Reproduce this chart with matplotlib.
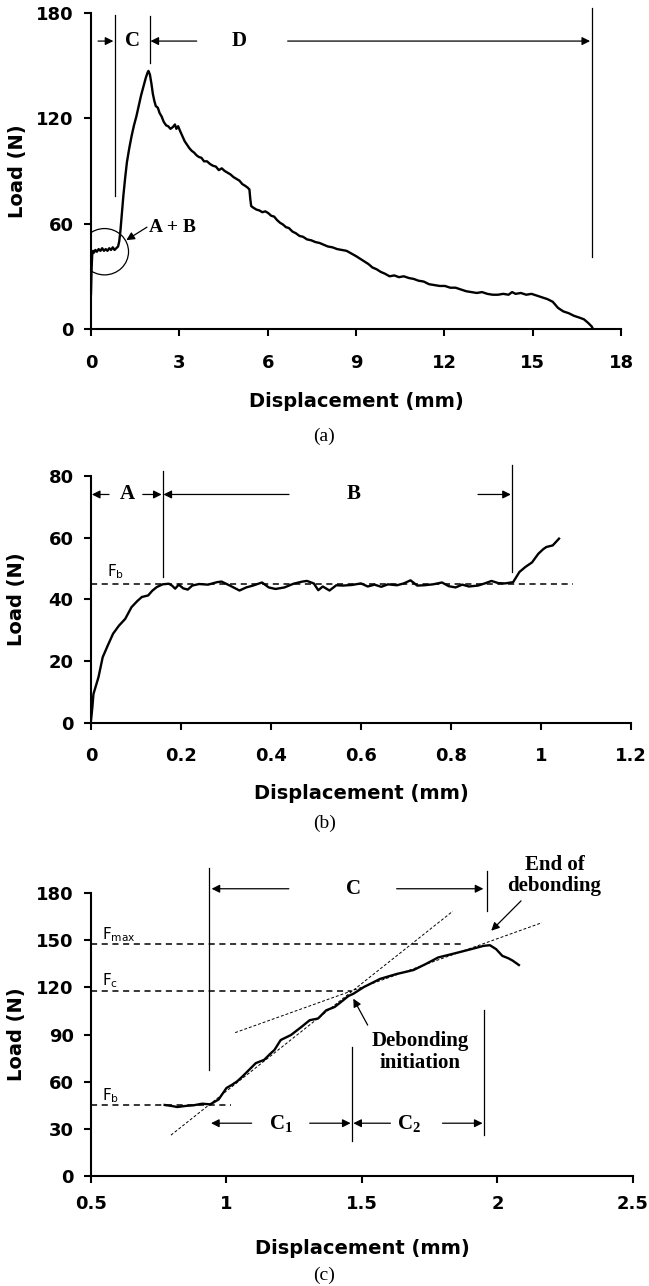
import matplotlib
matplotlib.use('Agg')
import matplotlib.pyplot as plt
from matplotlib.patches import Ellipse
from matplotlib.ticker import FormatStrFormatter

##### DATA #####

# (a) full load-displacement curve
disp_a = [0, 0.02, 0.04, 0.07, 0.1, 0.15, 0.2, 0.26, 0.32, 0.38, 0.44, 0.5, 0.56, 0.62,
          0.68, 0.74, 0.8, 0.86, 0.92, 0.96, 1.0, 1.05, 1.1, 1.16, 1.22, 1.3, 1.38, 1.46,
          1.54, 1.62, 1.7, 1.78, 1.86, 1.92, 1.95,
          2.0, 2.05, 2.1, 2.15, 2.2, 2.27, 2.33, 2.4, 2.47, 2.55, 2.62, 2.7, 2.78, 2.85,
          2.9, 2.96, 3.02, 3.1, 3.18, 3.26, 3.34, 3.42, 3.5, 3.58, 3.66, 3.75, 3.84, 3.94,
          4.04, 4.14, 4.24, 4.34, 4.44, 4.54, 4.64, 4.74, 4.84, 4.94, 5.04, 5.14, 5.24,
          5.32, 5.38, 5.41, 5.44, 5.52, 5.62, 5.72, 5.82, 5.92, 6.02, 6.12, 6.22, 6.32,
          6.42, 6.52, 6.62, 6.72, 6.84, 6.96, 7.08, 7.2, 7.34, 7.48, 7.62, 7.76, 7.9, 8.04,
          8.2, 8.36, 8.52, 8.68, 8.84, 9.0, 9.14, 9.28, 9.42, 9.56, 9.7, 9.84, 9.98, 10.14,
          10.3, 10.46, 10.62, 10.8, 10.96, 11.12, 11.3, 11.48, 11.66, 11.84, 12.02, 12.2,
          12.38, 12.56, 12.74, 12.92, 13.1, 13.28, 13.46, 13.64, 13.82, 14.0, 14.18, 14.3,
          14.42, 14.6, 14.78, 14.96, 15.14, 15.32, 15.5, 15.68, 15.86, 16.04, 16.22, 16.4,
          16.58, 16.74, 16.88, 17.0, 17.04]
load_a = [20, 34, 42, 44.5, 43.5, 45, 44, 45.5, 44.5, 46, 44.5, 45.5, 44.5, 46,
          45, 46.5, 45, 46, 47, 50, 56, 66, 76, 86, 95, 103, 110, 116,
          121, 127, 133, 138, 143, 146, 147,
          145, 140, 134, 130, 127, 126, 123, 121, 118, 116, 115.5, 114, 115, 116.5,
          114, 115.5, 113, 110, 107, 105, 103, 101.5, 100.5, 99, 98, 97.5, 95.5, 95.5,
          94, 93, 92.5, 90.5, 91.5, 90, 89, 88, 86.5, 85.5, 84.5, 82.5, 81.5,
          80.5, 79.5, 74, 70, 69, 68, 67.5, 66.5, 67, 66, 64.5, 64, 62,
          60.5, 59.5, 58, 57.5, 55.5, 54.5, 53, 52.5, 51, 50.5, 49.5, 49, 48, 47,
          46.5, 45.5, 45, 44.5, 43, 41.5, 40, 38.5, 37, 35, 34, 32.5, 31.5, 30,
          30.5, 29.5, 30, 29, 28.5, 27.5, 27, 25.5, 25, 24.5, 24.5, 23.5,
          23.5, 22.5, 21.5, 21, 20.5, 21, 20, 19.5, 19.5, 20, 19.5, 21,
          20, 20.5, 19.5, 20, 19, 18, 17, 15.5, 12, 10, 9, 7.5,
          6.5, 5.5, 3.5, 1.5, 0.3]

# (b) zoom on stages A + B
disp_b = [0, 0.003, 0.0055, 0.0166, 0.026, 0.037, 0.049, 0.062, 0.076, 0.09, 0.103, 0.113,
          0.127, 0.136, 0.146, 0.159, 0.173, 0.18, 0.187, 0.195, 0.205, 0.215, 0.225, 0.24,
          0.26, 0.28, 0.29, 0.31, 0.33, 0.345, 0.36, 0.38, 0.395, 0.41, 0.43, 0.45, 0.47,
          0.48, 0.495, 0.505, 0.515, 0.53, 0.545, 0.56, 0.58, 0.6, 0.615, 0.63, 0.645, 0.66,
          0.68, 0.695, 0.71, 0.725, 0.74, 0.76, 0.78, 0.795, 0.81, 0.825, 0.84, 0.86, 0.875,
          0.89, 0.905, 0.92, 0.938, 0.952, 0.965, 0.98, 0.994, 1.005, 1.012, 1.026, 1.04]
load_b = [0.8, 5, 9.4, 14.8, 21.3, 25, 28.9, 31.5, 33.7, 37.5, 39.5, 40.8,
          41.3, 42.8, 44, 44.9, 45.1, 44.5, 43.5, 44.8, 43.6, 43.2, 44.5, 45,
          44.8, 45.6, 45.8, 44.4, 42.9, 43.9, 44.5, 45.5, 43.9, 43.4, 43.9, 45.1, 45.8,
          46, 45.2, 43, 44.2, 42.9, 44.6, 44.5, 44.7, 45.2, 44.2, 44.8, 44.1, 44.9,
          44.6, 45.2, 46.2, 44.5, 44.6, 44.9, 45.5, 44.3, 43.9, 44.8, 44.2, 44.5, 45.2,
          46, 45.3, 45.2, 45.6, 48.9, 50.5, 52, 54.8, 56.3, 57, 57.5, 59.7]

# (c) zoom on stage C
disp_c = [0.772, 0.8, 0.818, 0.85, 0.879, 0.91, 0.94, 0.971, 1.0, 1.02, 1.04, 1.06, 1.078,
          1.108, 1.139, 1.16, 1.177, 1.2, 1.238, 1.277, 1.307, 1.338, 1.368, 1.399, 1.43,
          1.45, 1.468, 1.506, 1.567, 1.628, 1.69, 1.735, 1.781, 1.842, 1.903, 1.949, 1.972,
          1.995, 2.018, 2.04, 2.056, 2.079]
load_c = [45.2, 44.5, 43.9, 44.6, 45, 46, 45.6, 48.7, 56, 58, 60.3, 63.5, 66.6,
          71.8, 73.9, 77.5, 80.2, 86.5, 89.7, 94.9, 99.1, 100.2, 105.4, 107.5, 111.7,
          114.5, 115.9, 120.1, 125.4, 128.5, 131, 134.8, 139, 141.6, 144.3, 146.4, 146.8,
          144.3, 140, 138.5, 137, 134.2]

fb = 45
fc = 117.6
fmax = 147.4

# tangent lines in (c)
tan1_x = [0.795, 1.835]
tan1_y = [26, 168.4]
tan2_x = [1.032, 2.164]
tan2_y = [91.2, 161.1]

##### HELPERS #####

SANS = ['DejaVu Sans']
SERIF = ['Liberation Serif', 'DejaVu Serif']


def style_axes(ax, xpad):
    for s in ['top', 'right']:
        ax.spines[s].set_visible(False)
    for s in ['left', 'bottom']:
        ax.spines[s].set_linewidth(1.5)
    ax.tick_params(axis='both', direction='out', length=5, width=1.5, labelsize=13)
    ax.tick_params(axis='x', pad=xpad)
    ax.tick_params(axis='y', pad=7.5)
    for lab in ax.get_xticklabels() + ax.get_yticklabels():
        lab.set_fontweight('bold')
    ax.set_xlabel('Displacement (mm)', fontsize=14, fontweight='bold')
    ax.set_ylabel('Load (N)', fontsize=14, fontweight='bold')


def arrow(ax, tail, tip):
    ax.annotate('', xy=tip, xytext=tail,
                arrowprops=dict(arrowstyle='-|>', color='k', lw=0.9, mutation_scale=12,
                                shrinkA=0, shrinkB=0), annotation_clip=False)


def vline(ax, x, y0, y1):
    ax.plot([x, x], [y0, y1], color='k', lw=0.9, clip_on=False)


def serif_label(ax, x, y, s, size=15):
    ax.text(x, y, s, ha='center', va='center', fontsize=size, fontweight='bold',
            family=SERIF)


plt.rcParams['font.family'] = SANS

fig = plt.figure(figsize=(6.49, 12.86), dpi=100)

ax_a = fig.add_axes([0.1402, 0.7442, 0.8167, 0.2457])
ax_b = fig.add_axes([0.1402, 0.4378, 0.8321, 0.1921])
ax_c = fig.add_axes([0.1402, 0.0855, 0.8351, 0.2201])

##### PANEL (a) #####

ax_a.plot(disp_a, load_a, color='k', lw=1.7)
ax_a.set_xlim(0, 18)
ax_a.set_ylim(0, 180)
ax_a.set_xticks(range(0, 19, 3))
ax_a.set_yticks(range(0, 181, 60))
style_axes(ax_a, 13)

vline(ax_a, 0.82, 76, 179)
vline(ax_a, 2.0, 151.7, 178)
vline(ax_a, 17.0, 41, 183)
arrow(ax_a, (0.24, 164), (0.76, 164))
serif_label(ax_a, 1.4, 164, 'C')
arrow(ax_a, (3.59, 164), (2.02, 164))
serif_label(ax_a, 5.03, 164, 'D')
arrow(ax_a, (6.68, 164), (16.95, 164))

ax_a.add_patch(Ellipse((0.46, 44), 1.63, 26.4, fill=False, color='k', lw=0.9))
arrow(ax_a, (1.9, 58), (1.2, 50.6))
ax_a.text(2.75, 58, 'A + B', ha='center', va='center', fontsize=14, fontweight='bold',
          family=SERIF)

##### PANEL (b) #####

ax_b.plot(disp_b, load_b, color='k', lw=1.7)
ax_b.plot([0, 1.07], [fb, fb], color='k', lw=1.1, dashes=(4, 3))
ax_b.set_xlim(0, 1.2)
ax_b.set_ylim(0, 80)
ax_b.set_xticks([0, 0.2, 0.4, 0.6, 0.8, 1.0, 1.2])
ax_b.set_yticks(range(0, 81, 20))
ax_b.xaxis.set_major_formatter(FormatStrFormatter('%g'))
style_axes(ax_b, 12)

vline(ax_b, 0.159, 47.2, 81.6)
vline(ax_b, 0.935, 48.9, 83.5)
arrow(ax_b, (0.04, 74), (0.002, 74))
serif_label(ax_b, 0.08, 74, 'A')
arrow(ax_b, (0.115, 74), (0.157, 74))
arrow(ax_b, (0.44, 74), (0.161, 74))
serif_label(ax_b, 0.583, 74, 'B')
arrow(ax_b, (0.86, 74), (0.933, 74))
ax_b.text(0.035, 48.9, r'$\mathregular{F_b}$', fontsize=11, ha='left', va='center')

##### PANEL (c) #####

ax_c.plot(disp_c, load_c, color='k', lw=1.7)
ax_c.plot([0.5, 1.865], [fmax, fmax], color='k', lw=1.1, dashes=(4, 3))
ax_c.plot([0.5, 1.46], [fc, fc], color='k', lw=1.1, dashes=(4, 3))
ax_c.plot([0.5, 1.017], [fb, fb], color='k', lw=1.1, dashes=(4, 3))
ax_c.plot(tan1_x, tan1_y, color='k', lw=0.7, dashes=(3, 2))
ax_c.plot(tan2_x, tan2_y, color='k', lw=0.7, dashes=(3, 2))
ax_c.set_xlim(0.5, 2.5)
ax_c.set_ylim(0, 180)
ax_c.set_xticks([0.5, 1.0, 1.5, 2.0, 2.5])
ax_c.set_yticks(range(0, 181, 30))
ax_c.xaxis.set_major_formatter(FormatStrFormatter('%g'))
style_axes(ax_c, 9)

vline(ax_c, 0.936, 67.6, 196)
vline(ax_c, 1.96, 168.4, 194)
vline(ax_c, 1.463, 22.5, 82.3)
vline(ax_c, 1.95, 26, 105.4)

arrow(ax_c, (1.23, 182.7), (0.945, 182.7))
serif_label(ax_c, 1.468, 182.7, 'C')
arrow(ax_c, (1.628, 182.7), (1.948, 182.7))

arrow(ax_c, (1.093, 33.6), (0.943, 33.6))
serif_label(ax_c, 1.2, 33.6, r'$\mathregular{C_1}$')
arrow(ax_c, (1.307, 33.6), (1.458, 33.6))
arrow(ax_c, (1.605, 33.6), (1.468, 33.6))
serif_label(ax_c, 1.674, 33.6, r'$\mathregular{C_2}$')
arrow(ax_c, (1.797, 33.6), (1.945, 33.6))

ax_c.text(2.21, 191, 'End of\ndebonding', ha='center', va='center', fontsize=15,
          fontweight='bold', family=SERIF, linespacing=1.1)
arrow(ax_c, (2.087, 175), (1.977, 156))
ax_c.text(1.716, 79, 'Debonding\ninitiation', ha='center', va='center', fontsize=15,
          fontweight='bold', family=SERIF, linespacing=1.1)
arrow(ax_c, (1.521, 96), (1.468, 112.8))

ax_c.text(0.54, 153.8, r'$\mathregular{F_{max}}$', fontsize=11, ha='left', va='center')
ax_c.text(0.54, 124.3, r'$\mathregular{F_c}$', fontsize=11, ha='left', va='center')
ax_c.text(0.54, 51, r'$\mathregular{F_b}$', fontsize=11, ha='left', va='center')

# axis label positions
for ax, xl in [(ax_a, -0.2), (ax_b, -0.247), (ax_c, -0.223)]:
    ax.xaxis.set_label_coords(0.5, xl)
    ax.yaxis.set_label_coords(-0.12, 0.5)

# panel captions
for y, s in [(436, '(a)'), (823, '(b)'), (1275, '(c)')]:
    fig.text(0.5, 1 - y / 1286, s, ha='center', va='center', fontsize=14, family=SERIF)

fig.savefig('out.png', dpi=100)
